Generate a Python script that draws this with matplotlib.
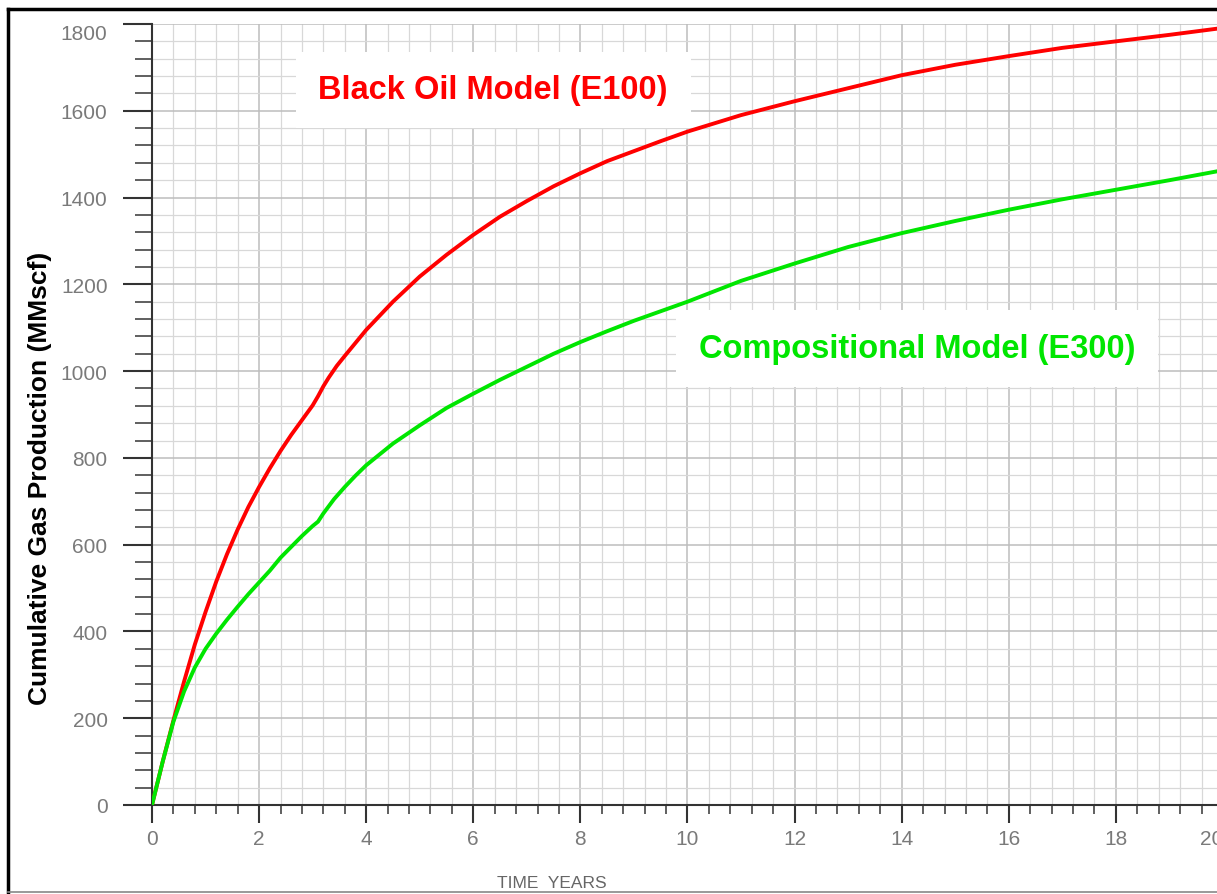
import matplotlib
matplotlib.use("Agg")
import matplotlib.pyplot as plt
from matplotlib.lines import Line2D
from matplotlib.ticker import MultipleLocator

plt.rcParams['font.family'] = ['Liberation Sans', 'DejaVu Sans']

# ---- data ----
time_e100 = [0, 0.2, 0.4, 0.6, 0.8, 1.0, 1.2, 1.4, 1.6, 1.8, 2.0, 2.2, 2.4, 2.6, 2.8,
             3.0, 3.1, 3.2, 3.3, 3.45, 3.6, 4.0, 4.5, 5.0, 5.5, 6.0, 6.5, 7.0, 7.5, 8.0, 8.5,
             9.0, 9.5, 10, 11, 12, 13, 14, 15, 16, 17, 18, 19, 20]
gas_e100 = [0, 100, 195, 285, 370, 445, 515, 578, 635, 687, 733, 776, 816, 853, 887,
            921, 942, 965, 985, 1012, 1035, 1095, 1160, 1218, 1268, 1314, 1356, 1392, 1426, 1456, 1484,
            1507, 1530, 1552, 1590, 1622, 1652, 1682, 1706, 1726, 1745, 1760, 1775, 1791]

time_e300 = [0, 0.2, 0.4, 0.6, 0.8, 1.0, 1.2, 1.4, 1.6, 1.8, 2.0, 2.2, 2.4, 2.6, 2.8,
             3.0, 3.1, 3.2, 3.4, 3.6, 3.8, 4.0, 4.5, 5.0, 5.5, 6.0, 6.5, 7.0, 7.5,
             8.0, 8.5, 9.0, 9.5, 10, 11, 12, 13, 14, 15, 16, 17, 18, 19, 20]
gas_e300 = [0, 100, 192, 262, 317, 360, 395, 427, 457, 486, 513, 540, 570, 595, 620,
            643, 653, 672, 705, 733, 759, 783, 833, 875, 915, 948, 980, 1010, 1040,
            1067, 1092, 1116, 1138, 1160, 1208, 1248, 1286, 1318, 1346, 1372, 1396, 1418, 1440, 1463]

label_e100 = "Black Oil Model (E100)"
label_e300 = "Compositional Model (E300)"
x_label = "TIME  YEARS"
y_label = "Cumulative Gas Production (MMscf)"

W, H = 1217, 895
fig = plt.figure(figsize=(W / 100, H / 100), dpi=100)
fig.patch.set_facecolor('white')

ax = fig.add_axes([152 / W, 89 / H, 1071 / W, 781 / H])
ax.set_xlim(0, 20)
ax.set_ylim(0, 1800)

ax.xaxis.set_major_locator(MultipleLocator(2))
ax.xaxis.set_minor_locator(MultipleLocator(0.4))
ax.yaxis.set_major_locator(MultipleLocator(200))
ax.yaxis.set_minor_locator(MultipleLocator(40))

ax.grid(which='major', color='#bdbdbd', linewidth=1.1, zorder=0)
ax.grid(which='minor', color='#d8d8d8', linewidth=0.9, zorder=0)
ax.set_axisbelow(True)

for s in ['top', 'right']:
    ax.spines[s].set_visible(False)
for s in ['left', 'bottom']:
    ax.spines[s].set_color('#333333')
    ax.spines[s].set_linewidth(1.5)

ax.tick_params(axis='y', which='major', length=21, width=1.5, color='#333333',
               labelsize=15, labelcolor='#7a7a7a', pad=11)
ax.tick_params(axis='y', which='minor', length=12, width=1.2, color='#444444')
ax.tick_params(axis='x', which='major', length=13, width=1.5, color='#333333',
               labelsize=15, labelcolor='#7a7a7a', pad=4)
ax.tick_params(axis='x', which='minor', length=6.5, width=1.2, color='#444444')

ax.plot(time_e100, gas_e100, color='#ff0000', linewidth=2.8, zorder=4,
        solid_joinstyle='round', solid_capstyle='round')
ax.plot(time_e300, gas_e300, color='#00e600', linewidth=2.8, zorder=4,
        solid_joinstyle='round', solid_capstyle='round')

ax.text(6.37, 1648, label_e100, color='#ff0000', fontsize=23.5,
        fontweight='bold', ha='center', va='center', zorder=3,
        bbox=dict(facecolor='white', edgecolor='none', boxstyle='square,pad=0.7'))
ax.text(14.29, 1052, label_e300, color='#00e600', fontsize=23.5,
        fontweight='bold', ha='center', va='center', zorder=3,
        bbox=dict(facecolor='white', edgecolor='none', boxstyle='square,pad=0.7'))

fig.text(40 / W, 1 - 478 / H, y_label, rotation=90, ha='center', va='center',
         fontsize=19, fontweight='bold', color='black')
fig.text(552 / W, 1 - 884 / H, x_label, ha='center', va='center',
         fontsize=12.5, color='#666666')

# outer frame
fig.add_artist(Line2D([8 / W, 8 / W], [1 - 893 / H, 1 - 10 / H], color='black',
                      linewidth=2.5, transform=fig.transFigure))
fig.add_artist(Line2D([8 / W, 1.0], [1 - 10 / H, 1 - 10 / H], color='black',
                      linewidth=2.5, transform=fig.transFigure))
fig.add_artist(Line2D([8 / W, 1.0], [1 - 893 / H, 1 - 893 / H], color='#888888',
                      linewidth=1.2, transform=fig.transFigure))

# last tick labels kept inside (as in the reference)
fig.canvas.draw()
xt = ax.xaxis.get_major_ticks()
for t in xt:
    if abs(t.get_loc() - 20) < 1e-6:
        t.label1.set_horizontalalignment('right')
yt = ax.yaxis.get_major_ticks()
for t in yt:
    if abs(t.get_loc() - 1800) < 1e-6:
        t.label1.set_verticalalignment('top')

fig.savefig('out.png', dpi=100)
